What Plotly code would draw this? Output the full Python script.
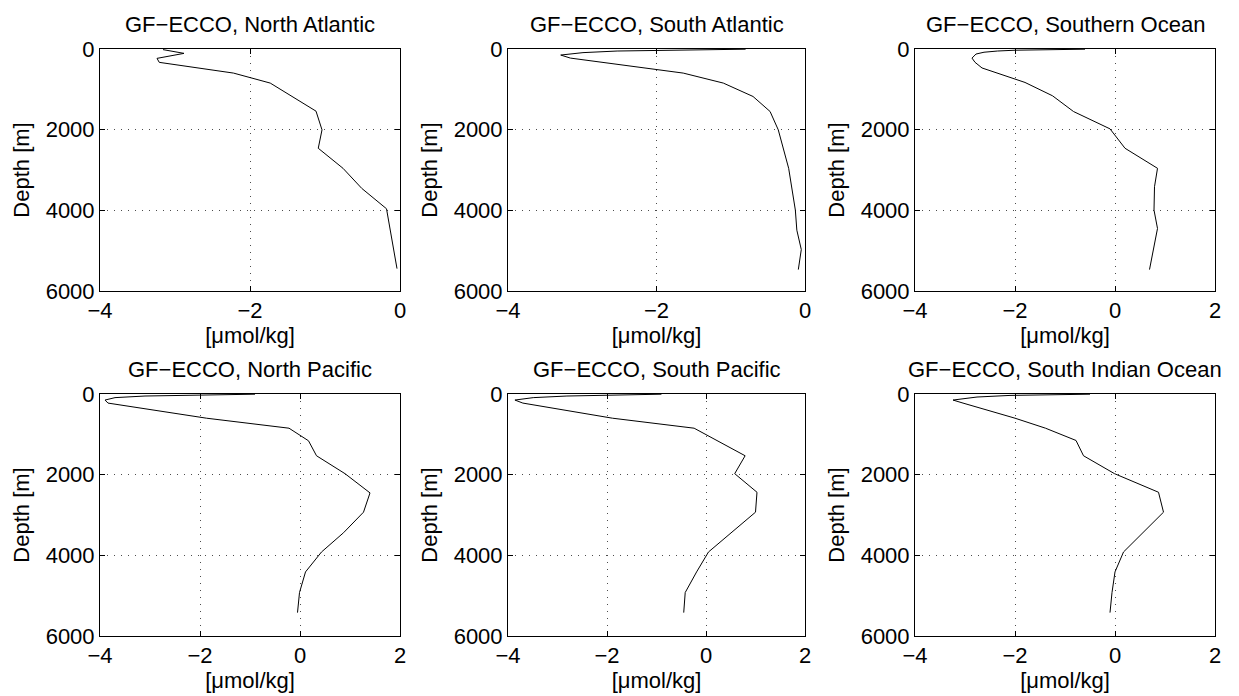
import plotly.graph_objects as go

# ---- data ----
titles = ["GF\u2212ECCO, North Atlantic", "GF\u2212ECCO, South Atlantic", "GF\u2212ECCO, Southern Ocean",
          "GF\u2212ECCO, North Pacific", "GF\u2212ECCO, South Pacific", "GF\u2212ECCO, South Indian Ocean"]

na_depth = [15, 108, 232, 331, 597, 845, 1541, 2005, 2461, 2958, 3456, 3961, 5445]
na_val = [-3.16, -2.88, -3.24, -3.21, -2.22, -1.73, -1.12, -1.04, -1.09, -0.76, -0.51, -0.18, -0.04]

sa_depth = [5, 25, 50, 90, 150, 225, 597, 845, 1177, 1550, 2005, 2958, 3994, 4492, 4972, 5469]
sa_val = [-0.8, -2.0, -2.53, -2.99, -3.29, -3.16, -1.64, -1.10, -0.70, -0.47, -0.36, -0.22, -0.13, -0.11, -0.05, -0.09]

so_depth = [5, 15, 30, 50, 80, 125, 225, 330, 470, 829, 1160, 1550, 1980, 2461, 2958, 3414, 3994, 4450, 4989, 5469]
so_val = [-0.6, -1.4, -2.0, -2.35, -2.62, -2.78, -2.86, -2.80, -2.66, -1.80, -1.25, -0.83, -0.10, 0.20, 0.85, 0.79, 0.78, 0.85, 0.77, 0.69]

np_depth = [5, 25, 50, 90, 150, 225, 600, 848, 1160, 1531, 1975, 2452, 2930, 3440, 3917, 4411, 4922, 5420]
np_val = [-0.9, -2.1, -3.1, -3.7, -3.9, -3.84, -1.87, -0.22, 0.17, 0.33, 0.90, 1.40, 1.27, 0.87, 0.43, 0.11, -0.01, -0.05]

sp_depth = [5, 25, 50, 90, 150, 225, 600, 848, 1531, 1975, 2436, 2930, 3917, 4411, 4922, 5420]
sp_val = [-0.9, -2.14, -2.81, -3.49, -3.86, -3.70, -1.89, -0.24, 0.79, 0.58, 1.03, 1.00, 0.05, -0.19, -0.42, -0.45]

si_depth = [5, 15, 35, 75, 150, 225, 600, 848, 1152, 1531, 1975, 2436, 2930, 3917, 4411, 4922, 5420]
si_val = [-0.5, -0.96, -2.1, -2.76, -3.24, -3.04, -2.0, -1.39, -0.78, -0.63, -0.01, 0.87, 0.97, 0.17, 0.0, -0.06, -0.1]

depths = [na_depth, sa_depth, so_depth, np_depth, sp_depth, si_depth]
values = [na_val, sa_val, so_val, np_val, sp_val, si_val]
xranges = [[-4, 0], [-4, 0], [-4, 2], [-4, 2], [-4, 2], [-4, 2]]
xticks = [[-4, -2, 0], [-4, -2, 0], [-4, -2, 0, 2], [-4, -2, 0, 2], [-4, -2, 0, 2], [-4, -2, 0, 2]]
yticks = [0, 2000, 4000, 6000]
xlabel = "[\u03bcmol/kg]"
ylabel = "Depth [m]"

# ---- layout geometry ----
W, H = 1239, 696
cols_px = [(100, 400), (508, 805), (915, 1215)]
rows_px = [(49, 291), (394, 636)]
FONT = "Liberation Sans, Arial, Helvetica, sans-serif"
FS = 22

fig = go.Figure()
layout = dict(width=W, height=H, margin=dict(l=0, r=0, t=0, b=0, autoexpand=False),
              template="none",
              paper_bgcolor="white", plot_bgcolor="white", showlegend=False,
              font=dict(family=FONT, size=FS, color="black"))
annotations = []
for i in range(6):
    r, c = divmod(i, 3)
    x0, x1 = cols_px[c]
    y0, y1 = rows_px[r]
    xa = "xaxis" if i == 0 else f"xaxis{i+1}"
    ya = "yaxis" if i == 0 else f"yaxis{i+1}"
    xref = "x" if i == 0 else f"x{i+1}"
    yref = "y" if i == 0 else f"y{i+1}"
    fig.add_trace(go.Scatter(x=values[i], y=depths[i], mode="lines",
                             line=dict(color="black", width=1), xaxis=xref, yaxis=yref,
                             hoverinfo="skip"))
    common = dict(showline=True, linecolor="black", linewidth=1, mirror="ticks",
                  ticks="inside", ticklen=5, tickcolor="black", zeroline=False,
                  automargin=False,
                  showgrid=True, gridcolor="rgba(0,0,0,0.7)", griddash="1px,6px", gridwidth=1,
                  tickfont=dict(family=FONT, size=FS, color="black"))
    layout[xa] = dict(common, domain=[x0 / W, x1 / W], anchor=yref, range=xranges[i],
                      tickmode="array", tickvals=xticks[i],
                      title=dict(text=xlabel, standoff=0, font=dict(family=FONT, size=FS)))
    layout[ya] = dict(common, domain=[1 - y1 / H, 1 - y0 / H], anchor=xref,
                      range=[6000, 0], tickmode="array", tickvals=yticks,
                      title=dict(text=ylabel, standoff=9, font=dict(family=FONT, size=FS)))
    annotations.append(dict(text=titles[i], xref="paper", yref="paper",
                            x=(x0 + x1) / 2 / W, y=1 - (y0 - 10) / H,
                            xanchor="center", yanchor="bottom", showarrow=False,
                            font=dict(family=FONT, size=FS, color="black")))
layout["annotations"] = annotations
fig.update_layout(**layout)
fig.write_html("out.html", config={"displayModeBar": False},
               post_script="document.body.style.margin='0px';")
